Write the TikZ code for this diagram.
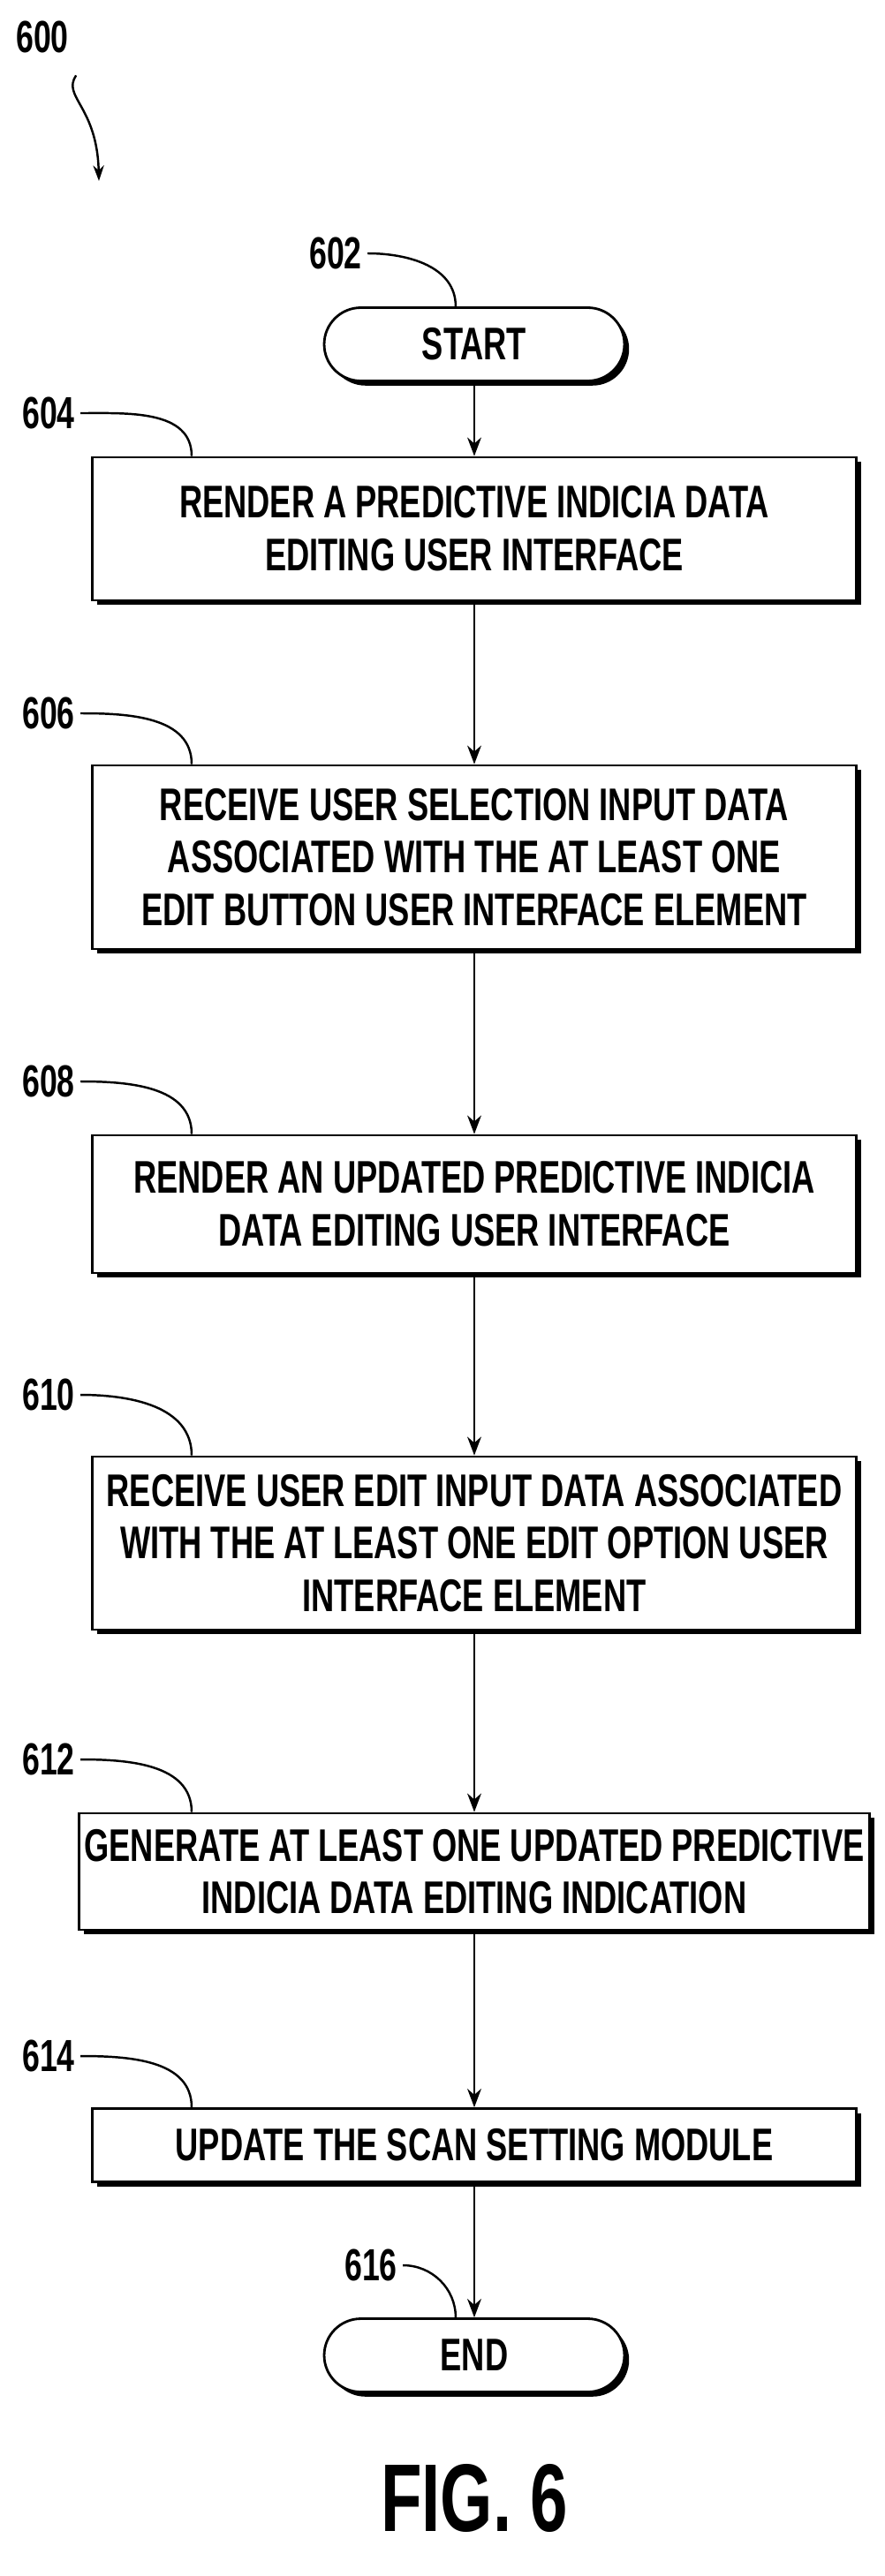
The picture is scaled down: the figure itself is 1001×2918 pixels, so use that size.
\documentclass[tikz,border=0pt]{standalone}
\usepackage{fontspec}
\setmainfont{Liberation Sans}[FakeStretch=0.7]
\usetikzlibrary{arrows.meta,shadows}

\tikzset{
  stepbox/.style={draw, line width=1.6pt, fill=white, align=center,
    minimum width=17.3cm, font=\fontsize{29.5}{34}\selectfont\bfseries,
    drop shadow={shadow xshift=3pt, shadow yshift=-3pt, fill=black, opacity=1}},
  term/.style={stepbox, rounded corners=0.83cm, minimum width=6.8cm, minimum height=1.66cm},
  ref/.style={font=\fontsize{29}{30}\selectfont\bfseries, inner sep=0pt},
  lead/.style={line width=1.4pt},
  flow/.style={line width=1.4pt, -{Stealth[length=12pt, width=9pt]}}
}

\begin{document}
\begin{tikzpicture}[x=0.02cm, y=-0.02cm]
    \useasboundingbox (0,0) rectangle (1001,2918);
    % Steps
    \node[term] (start) at (537,390) {START};
    \node[stepbox, minimum height=3.24cm] (s604) at (537,599)
        {RENDER A PREDICTIVE INDICIA DATA\\EDITING USER INTERFACE};
    \node[stepbox, minimum height=4.16cm] (s606) at (537,971)
        {RECEIVE USER SELECTION INPUT DATA\\ASSOCIATED WITH THE AT LEAST ONE\\EDIT BUTTON USER INTERFACE ELEMENT};
    \node[stepbox, minimum height=3.12cm] (s608) at (537,1364)
        {RENDER AN UPDATED PREDICTIVE INDICIA\\DATA EDITING USER INTERFACE};
    \node[stepbox, minimum height=3.92cm] (s610) at (537,1748)
        {RECEIVE USER EDIT INPUT DATA ASSOCIATED\\WITH THE AT LEAST ONE EDIT OPTION USER\\INTERFACE ELEMENT};
    \node[stepbox, minimum height=2.64cm] (s612) at (537,2120)
        {GENERATE AT LEAST ONE UPDATED PREDICTIVE\\INDICIA DATA EDITING INDICATION};
    \node[stepbox, minimum height=1.66cm] (s614) at (537,2430)
        {UPDATE THE SCAN SETTING MODULE};
    \node[term] (end) at (537,2668) {END};
    % Flow
    \draw[flow] (start) -- (s604);
    \draw[flow] (s604) -- (s606);
    \draw[flow] (s606) -- (s608);
    \draw[flow] (s608) -- (s610);
    \draw[flow] (s610) -- (s612);
    \draw[flow] (s612) -- (s614);
    \draw[flow] (s614) -- (end);
    % Reference numerals
    \node[ref] (l600) at (48,42) {600};
    \coordinate (a600) at (112,205);
    \draw[lead, -{Stealth[length=10pt, width=7pt]}] (l600.south east) ++(8,25)
        .. controls (70,110) and (110,120) .. (a600);
    \node[ref] (l602) at (380,287) {602};
    \draw[lead] (l602.east) ++(6,0) to[out=0, in=90] ([xshift=-12pt]start.north);
    \foreach \n/\y in {604/468, 606/808, 608/1225, 610/1580, 612/1993, 614/2329} {
        \node[ref] (l\n) at (55,\y) {\n};
        \draw[lead] (l\n.east) ++(6,0) to[out=0, in=90] (s\n.north -| 217,0);
    }
    \node[ref] (l616) at (420,2566) {616};
    \draw[lead] (l616.east) ++(6,0) to[out=0, in=90] ([xshift=-12pt]end.north);
    % Figure label
    \node[font=\fontsize{62}{70}\selectfont\bfseries] (fig) at (537,2830) {FIG. 6};
\end{tikzpicture}
\end{document}
